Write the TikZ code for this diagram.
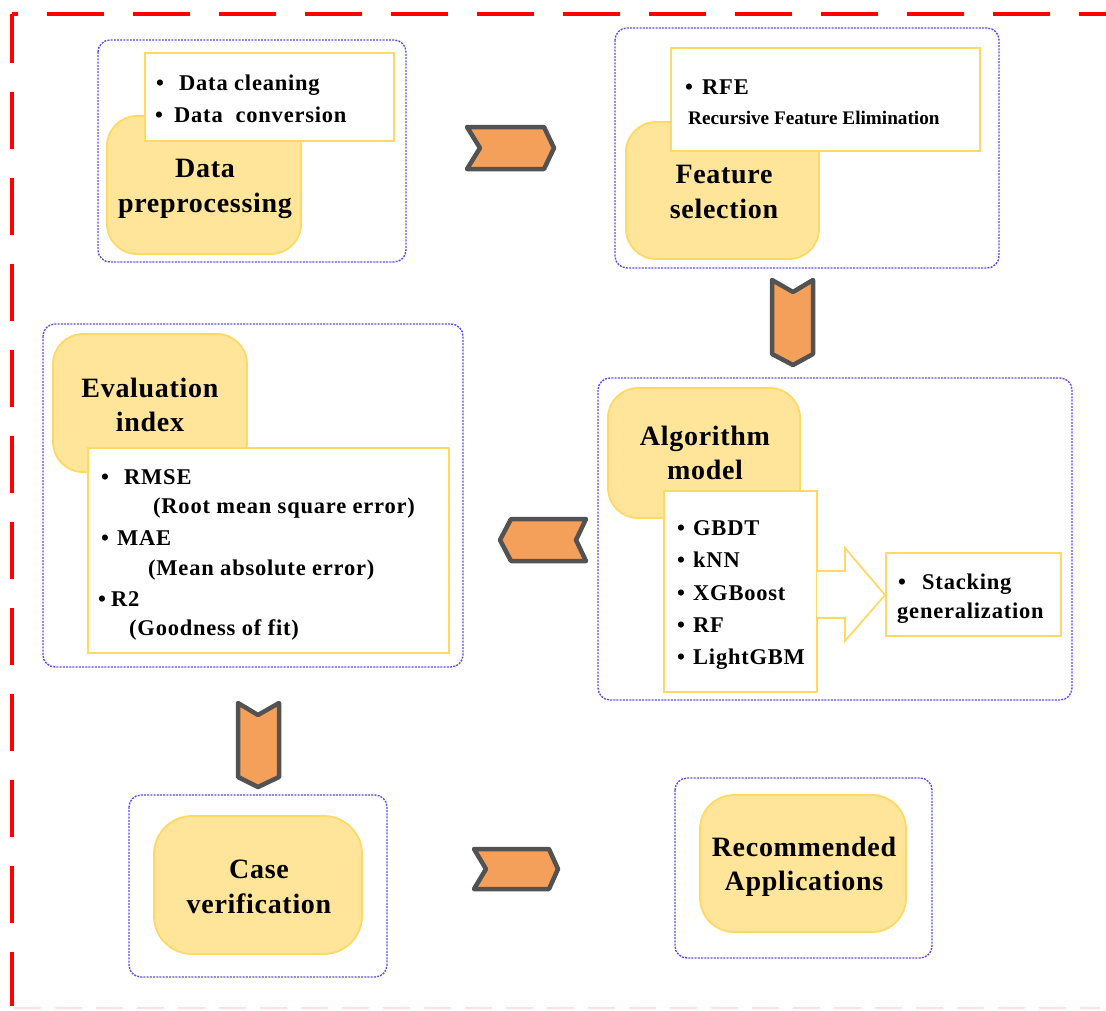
\documentclass[tikz,border=0pt]{standalone}
\usepackage{fontspec}
\setmainfont{Liberation Serif}
\newfontfamily\ttlfont[LetterSpace=2.5]{Liberation Serif}
\newfontfamily\lstfont[LetterSpace=3.5]{Liberation Serif}
\newfontfamily\plainfont{Liberation Serif}
\definecolor{frameRed}{RGB}{255,0,0}
\definecolor{dotBlue}{RGB}{92,78,242}
\definecolor{softYellow}{RGB}{255,229,153}
\definecolor{edgeYellow}{RGB}{255,217,102}
\definecolor{chevOrange}{RGB}{244,160,90}
\definecolor{chevGray}{RGB}{82,82,82}
\tikzset{
  groupbox/.style={draw=dotBlue, line width=1.4pt, dash pattern=on 2pt off 1.2pt, rounded corners=12pt},
  titlebox/.style={fill=softYellow, draw=edgeYellow, line width=1.8pt, rounded corners=30pt},
  listbox/.style={fill=white, draw=edgeYellow, line width=1.8pt},
  chev/.style={fill=chevOrange, draw=chevGray, line width=4.5pt, line join=round},
  ttl/.style={font=\ttlfont\bfseries\fontsize{28}{34.5}\selectfont, align=center, inner sep=0pt},
  lst/.style={font=\lstfont\bfseries\fontsize{22.5}{25}\selectfont, anchor=base west, inner sep=0pt},
}
\begin{document}
\begin{tikzpicture}[x=1pt,y=-1pt]
\useasboundingbox (0,0) rectangle (1106,1010);
% outer frame
\draw[frameRed, line width=3.5pt, dash pattern=on 57pt off 29pt, dash phase=51pt] (12,14) -- (1106,14);
\draw[frameRed, line width=3.5pt, dash pattern=on 57pt off 29pt, dash phase=8pt] (12,14) -- (12,1006);
\draw[red!12, line width=2pt, dash pattern=on 27pt off 14pt] (14,1008) -- (1100,1008);

% group boxes
\draw[groupbox] (98,40) rectangle (406,262);
\draw[groupbox] (615,28) rectangle (999,268);
\draw[groupbox] (43,324) rectangle (463,667);
\draw[groupbox] (598,378) rectangle (1072,700);
\draw[groupbox] (129,795) rectangle (387,977);
\draw[groupbox] (675,778) rectangle (932,958);

% Data preprocessing
\draw[titlebox] (107,116) rectangle (301,254);
\draw[listbox] (145,53) rectangle (394,141);
\node[ttl] (dp) at (205,189) {Data\\preprocessing};
\node[lst] (dpa) at (156,90) {\textbullet};
\node[lst] (dpb) at (179,90) {Data cleaning};
\node[lst] (dpc) at (155,122) {\textbullet};
\node[lst] (dpd) at (174,122) {Data\ \ conversion};

% Feature selection
\draw[titlebox] (626,122) rectangle (819,259);
\draw[listbox] (671,48) rectangle (980,151);
\node[ttl] (fs) at (724,192) {Feature\\selection};
\node[lst] (fsa) at (685,94) {\textbullet};
\node[lst] (fsb) at (702,94) {RFE};
\node[font=\plainfont\bfseries\fontsize{19.2}{22}\selectfont, anchor=base west, inner sep=0pt] (fsc) at (688,124) {Recursive Feature Elimination};

% Evaluation index
\draw[titlebox] (53,334) rectangle (247,472);
\draw[listbox] (88,448) rectangle (449,653);
\node[ttl] (ev) at (150,405) {Evaluation\\index};
\node[lst] (eva) at (101,484) {\textbullet};
\node[lst] (evb) at (124,484) {RMSE};
\node[lst] (evc) at (153,513) {(Root mean square error)};
\node[lst] (evd) at (101,545) {\textbullet};
\node[lst] (eve) at (117,545) {MAE};
\node[lst] (evf) at (148,575) {(Mean absolute error)};
\node[lst] (evg) at (98,606) {\textbullet};
\node[lst] (evh) at (111,606) {R2};
\node[lst] (evi) at (129,635) {(Goodness of fit)};

% Algorithm model
\draw[titlebox] (608,388) rectangle (800,518);
\draw[listbox] (664,491) rectangle (817,692);
\node[ttl] (am) at (705,453) {Algorithm\\model};
\foreach \yy/\tt [count=\i] in {535/GBDT,567/kNN,600/XGBoost,632/RF,664/LightGBM}{
  \node[lst] (amb\i) at (677,\yy) {\textbullet};
  \node[lst] (amt\i) at (693,\yy) {\tt};
}
\coordinate (sa1) at (817,571);
\coordinate (sa2) at (845,571);
\coordinate (sa3) at (845,548);
\coordinate (sa4) at (885,595);
\coordinate (sa5) at (845,641);
\coordinate (sa6) at (845,618);
\coordinate (sa7) at (817,618);
\draw[fill=white, draw=edgeYellow, line width=1.8pt, line join=miter] (sa1) -- (sa2) -- (sa3) -- (sa4) -- (sa5) -- (sa6) -- (sa7);
\draw[listbox] (886,553) rectangle (1061,636);
\node[lst] (sta) at (898,589) {\textbullet};
\node[lst] (stb) at (922,589) {Stacking};
\node[lst] (stc) at (897,618) {generalization};

% Case verification
\draw[titlebox, rounded corners=38pt] (154,816) rectangle (362,954);
\node[ttl] (cv) at (259,887) {Case\\verification};

% Recommended Applications
\draw[titlebox, rounded corners=34pt] (700,795) rectangle (906,932);
\node[ttl] (ra) at (804,867) {Recommended\\Applications};

% chevrons
\draw[chev] (467,127) -- (544,127) -- (554,148) -- (544,169) -- (467,169) -- (480,148) -- cycle;
\draw[chev] (772,280) -- (793,292) -- (813,280) -- (813,354) -- (793,365) -- (772,354) -- cycle;
\draw[chev] (586,519) -- (511,519) -- (500,540) -- (511,561) -- (586,561) -- (576,540) -- cycle;
\draw[chev] (238,703) -- (258,715) -- (279,703) -- (279,777) -- (258,787) -- (238,777) -- cycle;
\draw[chev] (474,849) -- (549,849) -- (558,869) -- (549,889) -- (474,889) -- (486,869) -- cycle;
\end{tikzpicture}
\end{document}
